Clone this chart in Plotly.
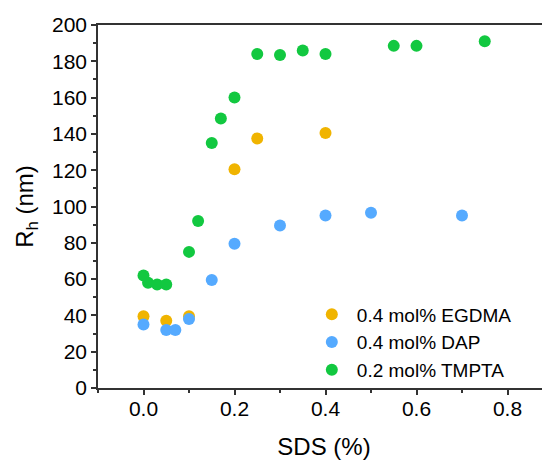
import plotly.graph_objects as go

# SDS concentration (%) and hydrodynamic radius (nm)
egdma_x = [0.0, 0.05, 0.1, 0.2, 0.25, 0.4]
egdma_y = [39.5, 37, 39.5, 120.5, 137.5, 140.5]

dap_x = [0.0, 0.05, 0.07, 0.1, 0.15, 0.2, 0.3, 0.4, 0.5, 0.7]
dap_y = [35, 32, 32, 38, 59.5, 79.5, 89.5, 95, 96.5, 95]

tmpta_x = [0.0, 0.01, 0.03, 0.05, 0.1, 0.12, 0.15, 0.17, 0.2, 0.25, 0.3, 0.35, 0.4, 0.55, 0.6, 0.75]
tmpta_y = [62, 58, 57, 57, 75, 92, 135, 148.5, 160, 184, 183.5, 186, 184, 188.5, 188.5, 191]

series = [
    ("0.4 mol% EGDMA", egdma_x, egdma_y, "#F0B400"),
    ("0.4 mol% DAP", dap_x, dap_y, "#55AAFF"),
    ("0.2 mol% TMPTA", tmpta_x, tmpta_y, "#12C840"),
]

fig = go.Figure()
for name, xs, ys, col in series:
    fig.add_trace(go.Scatter(
        x=xs, y=ys, mode="markers", name=name,
        marker=dict(size=12, color=col, line=dict(width=0)),
    ))

fnt = "Liberation Sans, Arial"
tick_font = dict(family=fnt, size=21, color="black")

# page body has an 8px margin, so the figure is 8px smaller each way
fig.update_layout(
    width=542, height=452,
    margin=dict(l=90, r=0, t=17, b=72),
    plot_bgcolor="white", paper_bgcolor="white",
    font=dict(family=fnt, color="black"),
    showlegend=True,
    legend=dict(
        x=0.462, y=0.255, xanchor="left", yanchor="top",
        font=dict(family=fnt, size=19, color="black"),
        bgcolor="rgba(0,0,0,0)", itemwidth=40, tracegroupgap=0,
    ),
    xaxis=dict(
        range=[-0.1, 0.8934],
        tickvals=[0.0, 0.2, 0.4, 0.6, 0.8],
        ticktext=["0.0", "0.2", "0.4", "0.6", "0.8"],
        ticks="outside", ticklen=5, tickwidth=1.5, tickcolor="#333",
        ticklabelstandoff=-4,
        minor=dict(tickvals=[-0.1, 0.1, 0.3, 0.5, 0.7], ticks="outside", ticklen=3, tickwidth=1.5, tickcolor="#333"),
        showline=True, linecolor="#333", linewidth=1.5, mirror=True,
        showgrid=False, zeroline=False,
        title=dict(text="SDS (%)", font=dict(family=fnt, size=24), standoff=20),
        tickfont=tick_font,
    ),
    yaxis=dict(
        range=[0, 200],
        dtick=20,
        ticks="outside", ticklen=5, tickwidth=1.5, tickcolor="#333",
        minor=dict(dtick=10, ticks="outside", ticklen=3, tickwidth=1.5, tickcolor="#333"),
        showline=True, linecolor="#333", linewidth=1.5,
        showgrid=False, zeroline=False,
        title=dict(text="R<sub>h</sub> (nm)", font=dict(family=fnt, size=24), standoff=12),
        tickfont=tick_font,
    ),
)

fig.write_html("out.html")
